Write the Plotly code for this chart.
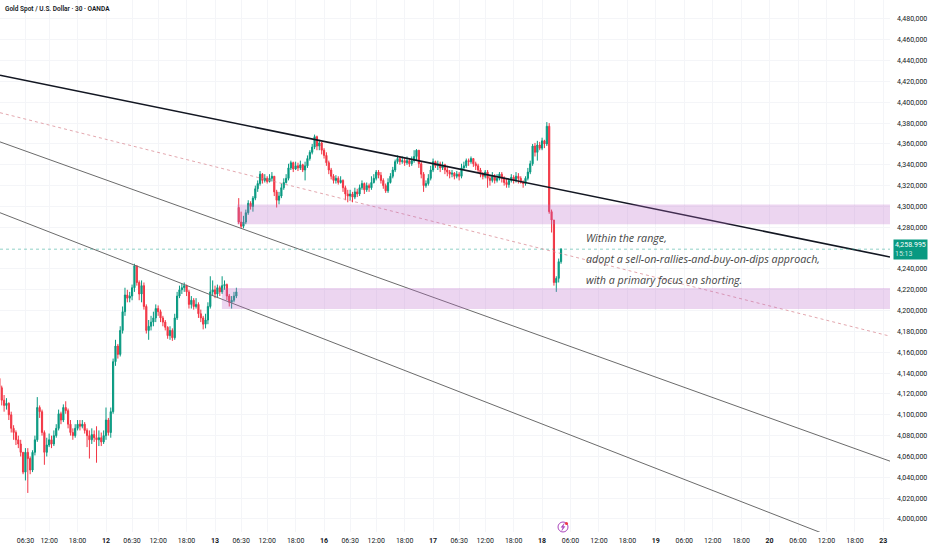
import plotly.graph_objects as go

# 30-minute bars, indexed by bar number (trading sessions only, like the chart)
first_open = 4135
gap_bar = 102        # bar where the session opened with a gap
gap_open = 4299

closes = [
    4126, 4114, 4109, 4111, 4100, 4087, 4083, 4076, 4072, 4064,
    4045, 4064, 4058, 4047, 4064, 4076, 4107, 4103, 4083, 4064,
    4071, 4076, 4072, 4080, 4087, 4101, 4095, 4107, 4104, 4091,
    4083, 4080, 4087, 4091, 4089, 4091, 4085, 4080, 4076, 4081,
    4078, 4076, 4078, 4074, 4080, 4095, 4083, 4103, 4151, 4166,
    4158, 4181, 4199, 4215, 4212, 4214, 4222, 4243, 4227, 4216,
    4224, 4204, 4181, 4185, 4189, 4193, 4202, 4199, 4193, 4189,
    4184, 4176, 4181, 4174, 4193, 4214, 4220, 4222, 4224, 4218,
    4206, 4210, 4204, 4206, 4197, 4193, 4187, 4191, 4204, 4218,
    4220, 4216, 4222, 4218, 4224, 4225, 4214, 4208, 4210, 4214,
    4218, 4285, 4281, 4285, 4294, 4303, 4300, 4308, 4317, 4322,
    4331, 4325, 4327, 4324, 4327, 4329, 4314, 4306, 4310, 4318,
    4323, 4327, 4337, 4342, 4336, 4339, 4337, 4340, 4335, 4339,
    4346, 4352, 4357, 4367, 4358, 4361, 4354, 4349, 4342, 4335,
    4329, 4325, 4327, 4323, 4325, 4318, 4312, 4310, 4312, 4309,
    4314, 4312, 4318, 4322, 4316, 4320, 4318, 4323, 4327, 4333,
    4330, 4325, 4320, 4315, 4323, 4329, 4335, 4343, 4346, 4343,
    4344, 4342, 4344, 4341, 4344, 4348, 4354, 4341, 4331, 4320,
    4322, 4327, 4335, 4343, 4339, 4341, 4337, 4340, 4335, 4333,
    4331, 4332, 4329, 4331, 4329, 4337, 4339, 4344, 4343, 4346,
    4341, 4339, 4335, 4331, 4329, 4333, 4327, 4325, 4329, 4325,
    4327, 4331, 4327, 4323, 4321, 4325, 4328, 4325, 4329, 4327,
    4323, 4322, 4327, 4333, 4341, 4358, 4352, 4359, 4356, 4363,
    4360, 4377, 4295, 4287, 4227, 4231, 4247, 4258.995,
]

highs = [
    4137, 4128, 4119, 4116, 4112, 4103, 4090, 4085, 4080, 4076,
    4064, 4068, 4068, 4060, 4066, 4080, 4117, 4109, 4105, 4085,
    4078, 4082, 4080, 4085, 4091, 4105, 4103, 4110, 4113, 4106,
    4095, 4087, 4091, 4095, 4095, 4095, 4093, 4087, 4085, 4087,
    4085, 4089, 4085, 4083, 4085, 4107, 4097, 4107, 4154, 4172,
    4168, 4185, 4204, 4222, 4220, 4218, 4225, 4245, 4243, 4229,
    4229, 4227, 4206, 4191, 4195, 4199, 4206, 4205, 4201, 4195,
    4191, 4185, 4185, 4183, 4197, 4218, 4224, 4226, 4227, 4225,
    4220, 4214, 4212, 4212, 4208, 4201, 4195, 4197, 4208, 4233,
    4229, 4224, 4225, 4224, 4233, 4229, 4226, 4216, 4214, 4218,
    4222, 4308, 4295, 4291, 4297, 4306, 4305, 4310, 4320, 4325,
    4334, 4332, 4331, 4329, 4331, 4333, 4329, 4316, 4314, 4322,
    4327, 4331, 4341, 4344, 4343, 4343, 4342, 4344, 4341, 4343,
    4349, 4354, 4360, 4369, 4368, 4364, 4362, 4356, 4352, 4344,
    4337, 4331, 4330, 4329, 4329, 4326, 4320, 4316, 4316, 4314,
    4318, 4317, 4321, 4325, 4323, 4323, 4322, 4329, 4331, 4335,
    4335, 4333, 4327, 4322, 4327, 4332, 4338, 4345, 4349, 4348,
    4348, 4347, 4348, 4346, 4348, 4354, 4355, 4354, 4343, 4333,
    4325, 4331, 4339, 4346, 4344, 4344, 4343, 4343, 4341, 4339,
    4335, 4335, 4333, 4334, 4333, 4341, 4343, 4346, 4346, 4348,
    4346, 4343, 4341, 4337, 4333, 4335, 4335, 4330, 4333, 4331,
    4331, 4333, 4333, 4329, 4327, 4327, 4331, 4330, 4333, 4332,
    4329, 4325, 4329, 4337, 4344, 4360, 4361, 4363, 4362, 4366,
    4364, 4381, 4380, 4297, 4287, 4233, 4250, 4260,
]

lows = [
    4122, 4109, 4103, 4105, 4095, 4083, 4076, 4071, 4068, 4060,
    4043, 4037, 4025, 4043, 4045, 4061, 4074, 4097, 4080, 4052,
    4060, 4069, 4068, 4070, 4078, 4085, 4091, 4093, 4101, 4087,
    4080, 4076, 4078, 4085, 4085, 4087, 4082, 4069, 4058, 4072,
    4074, 4054, 4070, 4070, 4072, 4076, 4080, 4078, 4101, 4147,
    4154, 4156, 4178, 4195, 4208, 4208, 4210, 4218, 4224, 4210,
    4208, 4201, 4178, 4172, 4181, 4185, 4189, 4195, 4189, 4185,
    4181, 4173, 4172, 4171, 4172, 4191, 4212, 4216, 4218, 4214,
    4202, 4202, 4201, 4202, 4193, 4189, 4182, 4183, 4187, 4202,
    4214, 4212, 4212, 4214, 4216, 4220, 4210, 4204, 4202, 4208,
    4212, 4283, 4279, 4279, 4283, 4292, 4297, 4295, 4306, 4314,
    4320, 4322, 4323, 4322, 4323, 4324, 4310, 4299, 4302, 4308,
    4316, 4322, 4325, 4335, 4333, 4335, 4334, 4335, 4333, 4325,
    4337, 4344, 4350, 4355, 4354, 4354, 4350, 4346, 4339, 4331,
    4326, 4322, 4322, 4321, 4322, 4314, 4306, 4304, 4306, 4304,
    4307, 4309, 4310, 4316, 4312, 4314, 4314, 4316, 4322, 4325,
    4327, 4322, 4317, 4313, 4313, 4322, 4327, 4333, 4341, 4340,
    4341, 4339, 4340, 4338, 4339, 4342, 4344, 4337, 4327, 4314,
    4318, 4320, 4325, 4333, 4337, 4335, 4333, 4335, 4331, 4329,
    4327, 4328, 4326, 4327, 4325, 4327, 4335, 4337, 4339, 4341,
    4338, 4335, 4332, 4328, 4326, 4327, 4318, 4320, 4323, 4322,
    4323, 4325, 4323, 4320, 4318, 4318, 4323, 4322, 4323, 4322,
    4322, 4318, 4320, 4325, 4331, 4339, 4348, 4344, 4354, 4354,
    4356, 4358, 4293, 4275, 4224, 4218, 4227, 4245,
]

bars = list(range(1, len(closes) + 1))
opens = [first_open] + closes[:-1]
opens[gap_bar - 1] = gap_open
last_price = closes[-1]

# time axis labels (bar number -> label)
tick_bars = [12, 22, 34, 46, 57, 68, 80, 92, 103, 114, 126, 138, 149, 160, 172, 184,
             195, 206, 218, 230, 242, 254, 266, 278, 290, 302, 314, 326, 338, 350, 362, 374]
tick_text = ["06:30", "12:00", "18:00", "<b>12</b>", "06:30", "12:00", "18:00", "<b>13</b>",
             "06:30", "12:00", "18:00", "<b>16</b>", "06:30", "12:00", "18:00", "<b>17</b>",
             "06:30", "12:00", "18:00", "<b>18</b>", "06:00", "12:00", "18:00", "<b>19</b>",
             "06:00", "12:00", "18:00", "<b>20</b>", "06:00", "12:00", "18:00", "<b>23</b>"]

price_ticks = [4000, 4020, 4040, 4060, 4080, 4100, 4120, 4140, 4160, 4180, 4200, 4220,
               4240, 4280, 4300, 4320, 4340, 4360, 4380, 4400, 4420, 4440, 4460, 4480]
price_text = ["4,000,000", "4,020,000", "4,040,000", "4,060,000", "4,080,000", "4,100,000",
              "4,120,000", "4,140,000", "4,160,000", "4,180,000", "4,200,000", "4,220,000",
              "4,240,000", "4,280,000", "4,300,000", "4,320,000", "4,340,000", "4,360,000",
              "4,380,000", "4,400,000", "4,420,000", "4,440,000", "4,460,000", "4,480,000"]

x_range = [1.27, 376.8]
y_range = [3987.5, 4498.2]

# drawings: trend lines (bar, price anchors) and zones
main_trend = ([1.27, 376.8], [4426, 4251.5])
mid_dotted = ([1.27, 376.8], [4390, 4175.5])
channel_top = ([1.27, 376.8], [4362, 4055.5])
channel_low = ([1.27, 376.8], [4294, 3961])
zone_upper = (101.3, 4283, 4302)
zone_lower = (94.9, 4201.5, 4221.8)

notes = ["Within the range,",
         "adopt a sell-on-rallies-and-buy-on-dips approach,",
         "with a primary focus on shorting."]
note_prices = [4270, 4249.6, 4229.4]
note_bar = 247.5

GREEN = "#089981"
RED = "#F23645"

fig = go.Figure()
fig.add_trace(go.Candlestick(
    x=bars, open=opens, high=highs, low=lows, close=closes,
    increasing=dict(line=dict(color=GREEN, width=1), fillcolor=GREEN),
    decreasing=dict(line=dict(color=RED, width=1), fillcolor=RED),
    whiskerwidth=0, hoverinfo="skip",
))

for (xs, ys), color, width, dash in [
    (channel_low, "#6b6b6b", 1, "solid"),
    (channel_top, "#6b6b6b", 1, "solid"),
    (mid_dotted, "rgba(215,130,140,0.7)", 1, "dot"),
    (main_trend, "#131722", 1.6, "solid"),
]:
    fig.add_trace(go.Scatter(x=xs, y=ys, mode="lines",
                             line=dict(color=color, width=width, dash=dash),
                             hoverinfo="skip"))

for x0, y0, y1 in [zone_upper, zone_lower]:
    fig.add_shape(type="rect", x0=x0, x1=x_range[1], y0=y0, y1=y1,
                  fillcolor="rgba(186,104,200,0.28)", line_width=0, layer="above")

# last price line
fig.add_shape(type="line", xref="paper", x0=0, x1=1, y0=last_price, y1=last_price,
              line=dict(color="rgba(8,153,129,0.45)", width=1, dash="dot"))

for txt, p in zip(notes, note_prices):
    fig.add_annotation(x=note_bar, y=p, text=txt, showarrow=False, xanchor="left",
                       yanchor="middle",
                       font=dict(family="Open Sans", size=10.7, color="#454545", style="italic"))

# price badge on the axis
fig.add_annotation(xref="paper", x=1, y=last_price, xanchor="left", yanchor="middle",
                   xshift=3, showarrow=False, align="left", bgcolor=GREEN, borderpad=1,
                   text="4,258.995<br><span style='color:rgba(255,255,255,0.8)'>15:13</span>",
                   font=dict(family="Roboto", size=7, color="white"))

fig.add_annotation(xref="paper", yref="paper", x=0, y=1, xanchor="left", yanchor="top",
                   xshift=3, yshift=-3, showarrow=False,
                   text="Gold Spot / U.S. Dollar · 30 · OANDA",
                   font=dict(family="Roboto", size=6.5, color="#131722", weight=600))

# small event icon near the time axis
icon_x, icon_y = 0.6326, 0.0094
fig.add_shape(type="circle", xref="paper", yref="paper", xsizemode="pixel", ysizemode="pixel",
              xanchor=icon_x, yanchor=icon_y, x0=-5, x1=5, y0=-5, y1=5,
              line=dict(color="#ab47bc", width=1), fillcolor="white", layer="above")
fig.add_shape(type="path", xref="paper", yref="paper", xsizemode="pixel", ysizemode="pixel",
              xanchor=icon_x, yanchor=icon_y,
              path="M 1.2,3.5 L -1.8,-0.3 L 0.2,-0.3 L -1.2,-3.5 L 1.8,0.4 L -0.2,0.4 Z",
              line=dict(color="#ab47bc", width=0.6), fillcolor="#ab47bc", layer="above")
fig.add_shape(type="circle", xref="paper", yref="paper", xsizemode="pixel", ysizemode="pixel",
              xanchor=icon_x, yanchor=icon_y, x0=2, x1=5, y0=2, y1=5,
              line=dict(color="#f23645", width=0), fillcolor="#f23645", layer="above")

fig.update_layout(
    width=932, height=550,
    margin=dict(l=0, r=42, t=0, b=18),
    paper_bgcolor="white", plot_bgcolor="white",
    showlegend=False,
    font=dict(family="Roboto", color="#131722"),
    xaxis=dict(range=x_range, tickmode="array", tickvals=tick_bars, ticktext=tick_text,
               tickfont=dict(size=7, color="#131722"), showgrid=True, gridcolor="#f4f5f8",
               zeroline=False, showline=False, ticks="", ticklabelstandoff=3,
               rangeslider=dict(visible=False)),
    yaxis=dict(range=y_range, side="right", tickmode="array", tickvals=price_ticks,
               ticktext=price_text, tickfont=dict(size=7, color="#131722"), showgrid=True,
               gridcolor="#f4f5f8", zeroline=False, showline=False, ticks="",
               ticklabelstandoff=6),
)

# the page must not add its own 8px body margin around the figure
fig.write_html("out.html", config={"displayModeBar": False},
               post_script="document.body.style.margin='0';")
